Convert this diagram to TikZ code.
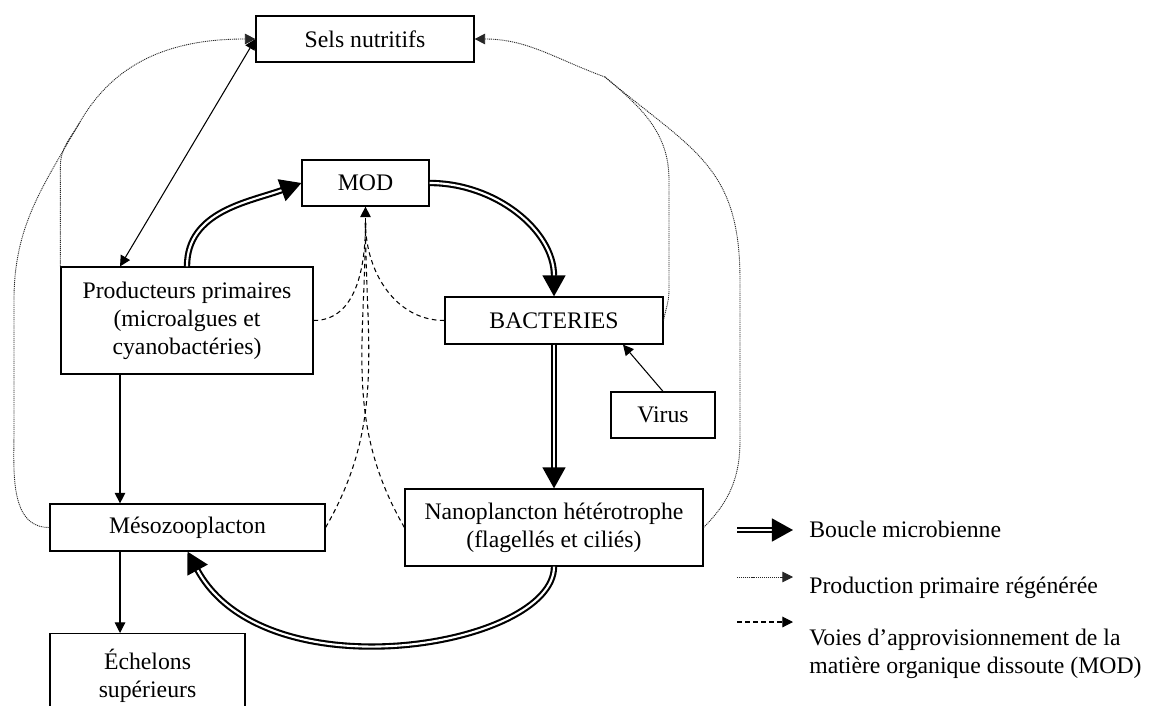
\documentclass[tikz,border=0pt]{standalone}
\usepackage{fontspec}
\setmainfont{Liberation Serif}
\usetikzlibrary{arrows.meta,calc,positioning}
\tikzset{
  boite/.style={draw, line width=0.7pt, inner sep=0pt, align=center},
  boucle/.style={double, line width=1.2pt, double distance=1.2pt, -{Triangle[length=12pt,width=13pt]}},
  flux/.style={line width=0.6pt, ->},
  regen/.style={line width=0.5pt, black!85, dash pattern=on 0.6pt off 0.5pt},
  voie/.style={line width=0.6pt, dash pattern=on 2.6pt off 2pt}
}
\begin{document}
\begin{tikzpicture}[x=0.02cm, y=0.02cm, >={Triangle[length=6pt,width=6pt]}, font=\fontsize{13.5pt}{16pt}\selectfont]
\useasboundingbox (0,0) rectangle (1149,-706);
\fill[white] (0,0) rectangle (1149,-706);
\clip (0,0) rectangle (1149,-706);
\node[boite, minimum width=4.36cm, minimum height=0.92cm] (sels) at (365,-39) {Sels nutritifs};
\node[boite, minimum width=2.54cm, minimum height=0.92cm] (mod) at (365.5,-183) {MOD};
\node[boite, minimum width=4.36cm, minimum height=0.94cm] (bact) at (554,-320.5) {BACTERIES};
\node[boite, minimum width=2.08cm, minimum height=0.92cm] (virus) at (663,-415) {Virus};
\node[boite, minimum width=5.04cm, minimum height=2.14cm] (prod) at (187,-320.5) {Producteurs primaires\\(microalgues et\\cyanobactéries)};
\node[boite, minimum width=5.5cm, minimum height=0.94cm] (meso) at (187.5,-527.5) {Mésozooplacton};
\node[boite, minimum width=5.96cm, minimum height=1.54cm] (nano) at (554,-527.5) {Nanoplancton hétérotrophe\\(flagellés et ciliés)};
\node[boite, anchor=north, minimum width=3.9cm, minimum height=1.7cm] (eche) at (147.5,-633) {Échelons\\supérieurs};
\coordinate (modin) at ([yshift=-0.32cm]mod.south);
\coordinate (lmerge) at (80,-122);
\coordinate (rmerge) at (605,-77);
\draw[flux, <->] (sels.west) -- ([xshift=-1.34cm]prod.north);
\draw[flux] ([xshift=-1.34cm]prod.south) -- ([xshift=-1.34cm]prod.south |- meso.north);
\draw[flux] ([xshift=-1.35cm]meso.south) -- ([xshift=-1.35cm]meso.south |- eche.north);
\draw[flux] (virus.north) -- ([xshift=1.38cm]bact.south);
\draw[boucle] (prod.north) to[out=90, in=200] (mod.west);
\draw[boucle] (mod.east) to[out=0, in=90] (bact.north);
\draw[boucle] (bact.south) -- (nano.north);
\draw[boucle] (nano.south) .. controls +(0,-80) and +(78,-144) .. (meso.south);
\draw[voie] (prod.east) to[out=0, in=-90] (modin);
\draw[voie] (bact.west) to[out=180, in=-90] (modin);
\draw[voie] (meso.east) to[out=60, in=-90] (modin);
\draw[voie] (nano.west) to[out=120, in=-90] (modin);
\draw[voie, ->] (modin) -- (mod.south);
\draw[regen, ->] (lmerge) to[out=60, in=180] (sels.west);
\draw[regen] (prod.north west) -- ++(0,100) to[out=90, in=240] (lmerge);
\draw[regen] (meso.west) to[out=180, in=-90] (14,-430) -- (14,-300) to[out=90, in=240] (lmerge);
\draw[regen, ->] (rmerge) to[out=160, in=0] (sels.east);
\draw[regen] (bact.east) to[out=80, in=-90] (669,-290) -- (669,-180) to[out=90, in=-40] (rmerge);
\draw[regen] (nano.east) to[out=45, in=-90] (740,-440) -- (740,-280) to[out=90, in=-40, looseness=1.2] (rmerge);
\coordinate (lg1) at (737,-530);
\coordinate (lg1e) at (793,-530);
\coordinate (lg2) at (737,-577);
\coordinate (lg2e) at (793,-577);
\coordinate (lg3) at (737,-622);
\coordinate (lg3e) at (793,-622);
\draw[boucle] (lg1) -- (lg1e);
\draw[regen, ->] (lg2) -- (lg2e);
\draw[voie, ->] (lg3) -- (lg3e);
\node[anchor=base west, inner sep=0pt] (lgt1) at (809,-537) {Boucle microbienne};
\node[anchor=base west, inner sep=0pt] (lgt2) at (809,-593) {Production primaire régénérée};
\node[anchor=north west, inner sep=0pt, align=left] (lgt3) at (809,-629) {Voies d’approvisionnement de la\\matière organique dissoute (MOD)};
\end{tikzpicture}
\end{document}
